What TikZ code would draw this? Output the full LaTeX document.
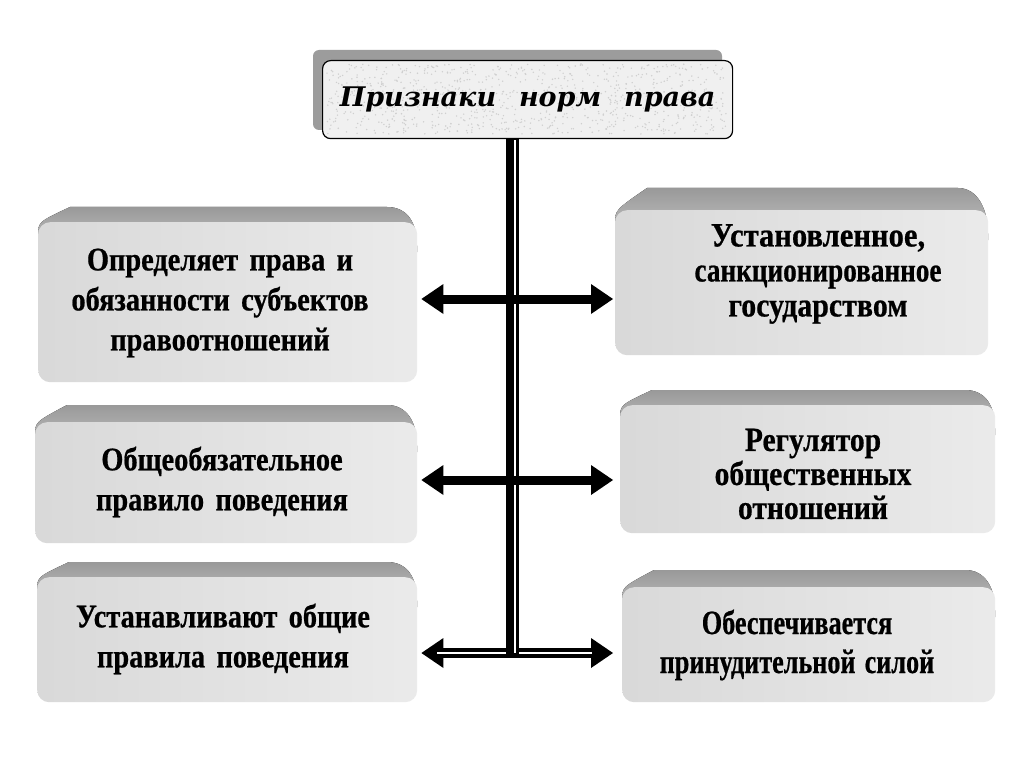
\documentclass[tikz,border=0pt]{standalone}
\usepackage{fontspec}
\setmainfont{Liberation Serif}
\newfontfamily\boxfontL{Liberation Serif}[FakeStretch=0.86, WordSpace=1.6, FakeBold=0.6]
\newfontfamily\boxfontRa{Liberation Serif}[FakeStretch=0.80, WordSpace=1.4, FakeBold=0.6]
\newfontfamily\boxfontRb{Liberation Serif}[FakeStretch=0.87, WordSpace=1.4, FakeBold=0.6]
\newfontfamily\boxfontRc{Liberation Serif}[FakeStretch=0.77, WordSpace=1.4, FakeBold=0.6]
\newfontfamily\titlefont{DejaVu Serif}
\usetikzlibrary{arrows.meta,calc}
\newcommand\bevelband[5]{%
  \fill[top color=gray!80, bottom color=gray!45]
    (#1+32,#2) -- (#4-30,#2) .. controls (#4-10,#2) and (#4,#3) .. (#4,#3+24)
    -- (#4,#3+30) -- (#1,#3+30) -- (#1,#3+14) .. controls (#1,#3) .. (#1+32,#2) -- cycle;
}
\tikzset{
  face/.style={rounded corners=12pt, left color=gray!30, middle color=gray!6, right color=gray!16,
    draw=none, inner sep=0pt, anchor=north west},
  txtL/.style={align=center, font=\boxfontL\bfseries\fontsize{33}{40}\selectfont, inner sep=0pt},
  txtRa/.style={align=center, font=\boxfontRa\bfseries\fontsize{34}{35}\selectfont, inner sep=0pt},
  txtRb/.style={align=center, font=\boxfontRb\bfseries\fontsize{34}{34}\selectfont, inner sep=0pt},
  txtRc/.style={align=center, font=\boxfontRc\bfseries\fontsize{34}{39}\selectfont, inner sep=0pt},
  tip/.style={line width=9pt, {Triangle[length=22pt,width=30pt,line width=0pt]}-{Triangle[length=22pt,width=30pt,line width=0pt]}},
}
\begin{document}
\begin{tikzpicture}[x=1pt,y=-1pt]
\fill[white] (0,0) rectangle (1024,767);
\useasboundingbox (0,0) rectangle (1024,767);

% title
\fill[gray!78, rounded corners=6pt] (313,50) rectangle (722,130);
\node[draw=black, line width=1.2pt, fill=gray!12, rounded corners=8pt, anchor=north west,
  minimum width=410pt, minimum height=78pt, inner sep=0pt] (T) at (322,60) {};
\pgfmathsetseed{7}
\foreach \i in {1,...,900} {
  \fill[gray!38] ({327+rnd*400},{64+rnd*70}) circle (0.8);
}
\node[font=\titlefont\bfseries\itshape\fontsize{27}{30}\selectfont, inner sep=0pt] (Tt) at (T.center)
  {Признаки\hspace{0.5em} норм\hspace{0.5em} права};

% left boxes
\bevelband{38}{207}{222}{417}{382}
\node[face, minimum width=379pt, minimum height=160pt] (L1) at (38,222) {};
\bevelband{35}{405}{422}{417}{543}
\node[face, minimum width=382pt, minimum height=121pt] (L2) at (35,422) {};
\bevelband{37}{562}{577}{417}{702}
\node[face, minimum width=380pt, minimum height=125pt] (L3) at (37,577) {};
% right boxes
\bevelband{615}{188}{210}{988}{355}
\node[face, minimum width=373pt, minimum height=145pt] (R1) at (615,210) {};
\bevelband{620}{390}{405}{995}{533}
\node[face, minimum width=375pt, minimum height=128pt] (R2) at (620,405) {};
\bevelband{622}{570}{587}{995}{702}
\node[face, minimum width=373pt, minimum height=115pt] (R3) at (622,587) {};

% texts
\node[txtL] (tL1) at (220,303) {Определяет права и\\обязанности субъектов\\правоотношений};
\node[txtL] (tL2) at (222,482) {Общеобязательное\\правило поведения};
\node[txtL] (tL3) at (223,639) {Устанавливают общие\\правила поведения};
\node[txtRa] (tR1) at (818,274) {{\addfontfeature{FakeStretch=0.9}Установленное,}\\санкционированное\\{\addfontfeature{FakeStretch=0.88}государством}};
\node[txtRb] (tR2) at (813,474) {Регулятор\\общественных\\отношений};
\node[txtRc] (tR3) at (797,645) {Обеспечивается\\принудительной силой};

% row coordinates
\coordinate (r1) at (512,299);
\coordinate (r2) at (512,480);
\coordinate (r3) at (512,653);

% row 3 (double) arrow
\draw[tip, line width=10pt, shorten <=4pt, shorten >=9pt] (L3.east |- r3) -- (R3.west |- r3);
\draw[white, line width=2pt, shorten <=20pt, shorten >=30pt] (L3.east |- r3) -- (R3.west |- r3);

% vertical line
\draw[line width=13pt] ($(T.south -| r3)+(0.5,0)$) -- ($(r3)+(0.5,3)$);
\draw[white, line width=2pt] ($(T.south -| r3)+(3,1)$) -- ($(r3)+(3,0)$);

% rows 1 and 2
\draw[tip, shorten <=4pt, shorten >=2pt] (L1.east |- r1) -- (R1.west |- r1);
\draw[tip, shorten <=4pt, shorten >=7pt] (L2.east |- r2) -- (R2.west |- r2);
\end{tikzpicture}
\end{document}
